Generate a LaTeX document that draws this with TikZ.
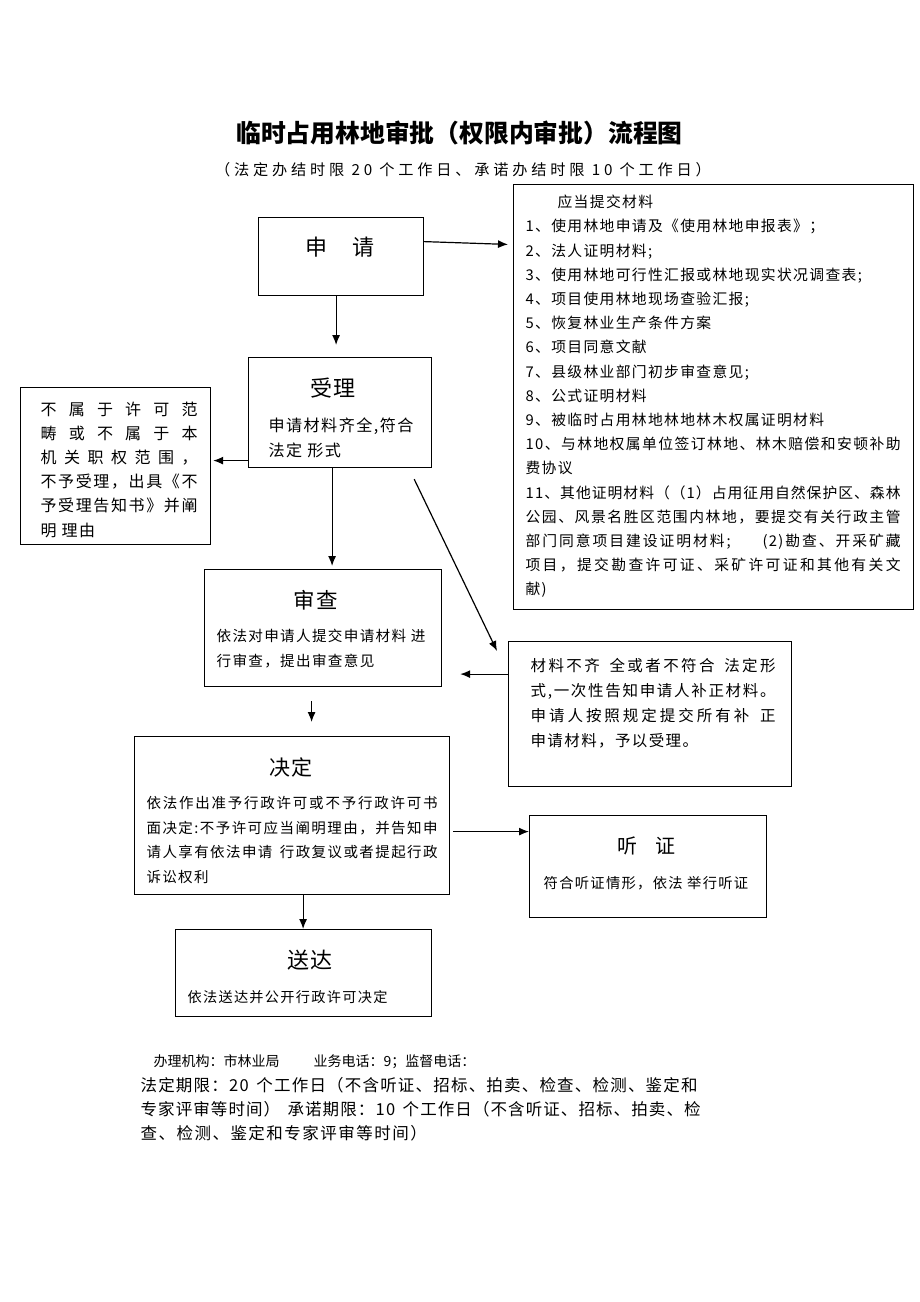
\documentclass[tikz,border=0pt]{standalone}
\usepackage{fontspec}
\usetikzlibrary{arrows.meta}
\setmainfont{Noto Sans CJK SC}[LetterSpace=9]
\newfontfamily\biaoti{Noto Sans CJK SC}
\newfontfamily\kuan{Noto Sans CJK SC}[LetterSpace=25]
\newfontfamily\jin{Noto Sans CJK SC}
\newcommand{\zihao}[2]{\fontsize{#1}{#2}\selectfont}
\def\zhuzi#1{\ifx\relax#1\else#1\hskip0pt plus1fil\relax\expandafter\zhuzi\fi}
\newcommand{\manhang}[2]{\makebox[#1][s]{\zhuzi#2\relax\unskip}}
\tikzset{
  kuang/.style={draw, inner sep=0pt, anchor=north west},
  wenzi/.style={inner sep=0pt, align=left, anchor=base west},
  biao/.style={inner sep=0pt, anchor=base},
}
\begin{document}
\begin{tikzpicture}[x=1pt,y=-1pt,line width=1.2pt,>={Latex[length=10pt,width=8pt]}]
    \useasboundingbox (0,0) rectangle (920,1302);

    % title
    \node[biao] (biaoti) at (459.5,142) {\biaoti\bfseries\zihao{24.8}{30}临时占用林地审批（权限内审批）流程图};
    \node[biao] (fubiaoti) at (463,175.8) {\kuan\zihao{15.2}{18}（法定办结时限 20 个工作日、承诺办结时限 10 个工作日）};

    % boxes
    \node[kuang, minimum width=165, minimum height=78] (shenqing) at (258,217) {};
    \node[kuang, minimum width=400, minimum height=425] (cailiao) at (513,184) {};
    \node[kuang, minimum width=183, minimum height=110] (shouli) at (248,357) {};
    \node[kuang, minimum width=190, minimum height=157] (buyu) at (20,387) {};
    \node[kuang, minimum width=237, minimum height=117] (shencha) at (204,569) {};
    \node[kuang, minimum width=283, minimum height=145] (buqi) at (508,641) {};
    \node[kuang, minimum width=315, minimum height=158] (jueding) at (134,736) {};
    \node[kuang, minimum width=237, minimum height=102] (tingzheng) at (529,815) {};
    \node[kuang, minimum width=256, minimum height=87] (songda) at (175,929) {};

    % texts (base = last line)
    \node[biao, font=\zihao{22}{26}] (shenqing-t) at (340,255.4) {申　请};

    \node[wenzi, font=\zihao{14.8}{24.2}] (cailiao-t) at (525,594.8) {\hspace*{32pt}应当提交材料\\
    1、使用林地申请及《使用林地申报表》；\\
    2、法人证明材料;\\
    3、使用林地可行性汇报或林地现实状况调查表;\\
    4、项目使用林地现场查验汇报;\\
    5、恢复林业生产条件方案\\
    6、项目同意文献\\
    7、县级林业部门初步审查意见;\\
    8、公式证明材料\\
    9、被临时占用林地林地林木权属证明材料\\
    \manhang{375pt}{{10}、与林地权属单位签订林地、林木赔偿和安顿补助}\\
    费协议\\
    \manhang{375pt}{{11}、其他证明材料（（1）占用征用自然保护区、森林}\\
    \manhang{375pt}{公园、风景名胜区范围内林地，要提交有关行政主管}\\
    \manhang{375pt}{部门同意项目建设证明材料;{\hspace{28pt}}{(2)}勘查、开采矿藏}\\
    \manhang{375pt}{项目，提交勘查许可证、采矿许可证和其他有关文}\\
    献)};

    \node[biao, font=\zihao{22}{26}] (shouli-t) at (333,396.4) {受理};
    \node[wenzi, font=\zihao{16.1}{25}] (shouli-b) at (268,456.1) {申请材料齐全,符合\\法定 形式};

    \node[wenzi, font=\zihao{16}{24.2}] (buyu-t) at (40,536.1) {\manhang{157pt}{不属于许可范}\\
    \manhang{157pt}{畴或不属于本}\\
    \manhang{157pt}{机关职权范围，}\\
    \manhang{157pt}{不予受理，出具《不}\\
    \manhang{157pt}{予受理告知书》并阐}\\
    明 理由};

    \node[biao, font=\zihao{21.5}{26}] (shencha-t) at (316,608.2) {审查};
    \node[wenzi, font=\zihao{14.6}{25}] (shencha-b) at (216,666.5) {依法对申请人提交申请材料 进\\行审查，提出审查意见};

    \node[wenzi, font=\zihao{15.5}{24.7}] (buqi-t) at (530,746) {\manhang{245pt}{材料不齐~全或者不符合~法定形}\\
    \manhang{245pt}{式,一次性告知申请人补正材料。}\\
    \manhang{245pt}{申请人按照规定提交所有补~正}\\
    申请材料，予以受理。};

    \node[biao, font=\zihao{21}{26}] (jueding-t) at (291,775) {决定};
    \node[wenzi, font=\zihao{14.5}{24.7}] (jueding-b) at (146,882.6) {\manhang{291pt}{依法作出准予行政许可或不予行政许可书}\\
    \manhang{291pt}{面决定:不予许可应当阐明理由，并告知申}\\
    \manhang{291pt}{请人享有依法申请~行政复议或者提起行政}\\
    诉讼权利};

    \node[biao, font=\zihao{20}{24}] (tingzheng-t) at (646,853.6) {听\hspace{18pt}证};
    \node[biao, font=\zihao{14.3}{18}] (tingzheng-b) at (646,888.4) {符合听证情形，依法 举行听证};

    \node[biao, font=\zihao{22}{26}] (songda-t) at (310,968.4) {送达};
    \node[wenzi, font=\zihao{14.2}{18}] (songda-b) at (187,1002.4) {依法送达并公开行政许可决定};

    % footer
    \node[wenzi, font=\jin\zihao{14}{16}] (jigou) at (153,1066.3) {办理机构：市林业局\hspace{34pt}业务电话：9；监督电话：};
    \node[wenzi, font=\zihao{16.5}{24}] (qixian) at (140,1139.3) {\manhang{557pt}{法定期限：{20}~个工作日（不含听证、招标、拍卖、检查、检测、鉴定和}\\
    \manhang{560pt}{专家评审等时间）~承诺期限：{10}~个工作日（不含听证、招标、拍卖、检}\\
    查、检测、鉴定和专家评审等时间）};

    % arrows
    \draw[->, shorten >=5pt] ([yshift=15pt]shenqing.east) -- ([yshift=152.5pt]cailiao.west);
    \draw[->, shorten >=12pt] ([xshift=-5pt]shenqing.south) -- ([xshift=-5pt]shenqing.south |- shouli.north);
    \draw[->, shorten >=2pt] ([yshift=-48pt]shouli.west) -- ([yshift=-48pt]shouli.west -| buyu.east);
    \draw[->, shorten >=3pt] ([xshift=-8pt]shouli.south) -- ([xshift=-8pt]shouli.south |- shencha.north);
    \draw[->] ([xshift=-18pt,yshift=-11pt]shouli.south east) -- ([xshift=-11pt,yshift=-10pt]buqi.north west);
    \draw[->, shorten >=18pt] ([yshift=40pt]buqi.west) -- ([yshift=40pt]buqi.west -| shencha.east);
    \draw[->, shorten <=14pt, shorten >=14pt] ([xshift=-11.5pt]shencha.south) -- ([xshift=-11.5pt]shencha.south |- jueding.north);
    \draw[->, shorten <=3pt] ([yshift=-16pt]jueding.east) -- ([yshift=-16pt]jueding.east -| tingzheng.west);
    \draw[->] ([xshift=11pt]jueding.south) -- ([xshift=11pt]jueding.south |- songda.north);

\end{tikzpicture}
\end{document}
